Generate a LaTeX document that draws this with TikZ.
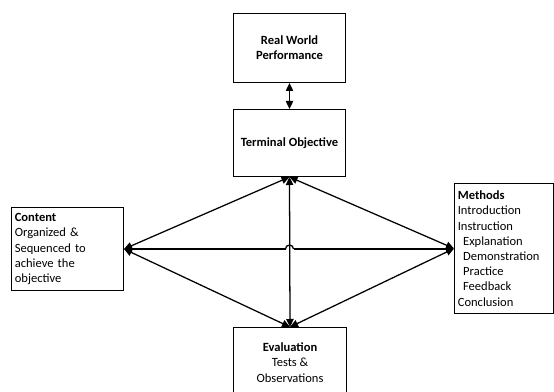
\documentclass[tikz,border=0pt]{standalone}
\usepackage{fontspec}
\setmainfont{Carlito}
\usetikzlibrary{arrows.meta,calc}
\begin{document}
\begin{tikzpicture}[x=0.75pt,y=-0.75pt,
  box/.style={draw,line width=0.75pt,anchor=north west,inner sep=0pt,font=\fontsize{9.4}{11.4}\selectfont},
  lbox/.style={box,align=left,inner xsep=2.5pt},
  conn/.style={line width=0.95pt,{Triangle[length=6pt,width=5.5pt]}-{Triangle[length=6pt,width=5.5pt]}},
  plain/.style={line width=0.95pt}]
\useasboundingbox (0,0) rectangle (554,392);
\node[box,minimum width=84pt,minimum height=51.75pt,align=center] (real) at (233,13) {\textbf{Real World}\\\textbf{Performance}};
\node[box,minimum width=84pt,minimum height=50.25pt,align=center] (term) at (233,109) {\textbf{Terminal Objective}};
\node[lbox,text width=79pt,minimum height=62.25pt] (content) at (11,207) {\textbf{Content}\\Organized \&\\Sequenced to\\achieve the\\objective};
\node[lbox,text width=69.5pt,minimum height=97.5pt] (methods) at (454,183) {\textbf{Methods}\\Introduction\\Instruction\\\hspace*{4pt}Explanation\\\hspace*{4pt}Demonstration\\\hspace*{4pt}Practice\\\hspace*{4pt}Feedback\\Conclusion};
\node[box,minimum width=84.75pt,minimum height=52.5pt,align=center] (eval) at (233,327) {\textbf{Evaluation}\\Tests \&\\Observations};
\draw[conn] (real.south) -- (term.north);
\draw[conn] (term.south) -- (eval.north);
\draw[conn] (content.east) -- (term.south);
\draw[conn] (content.east) -- (eval.north);
\draw[conn] (methods.west) -- (term.south);
\draw[conn] (methods.west) -- (eval.north);
\coordinate (cross) at (content.east -| term.south);
\coordinate (hopL) at ($(cross)+(-4,0)$);
\coordinate (hopR) at ($(cross)+(4,0)$);
\draw[plain,{Triangle[length=6pt,width=5.5pt]}-] (content.east) -- (hopL);
\draw[plain] (hopL) arc[start angle=180,end angle=0,radius=3pt];
\draw[plain,-{Triangle[length=6pt,width=5.5pt]}] (hopR) -- (methods.west |- hopR);
\end{tikzpicture}
\end{document}
